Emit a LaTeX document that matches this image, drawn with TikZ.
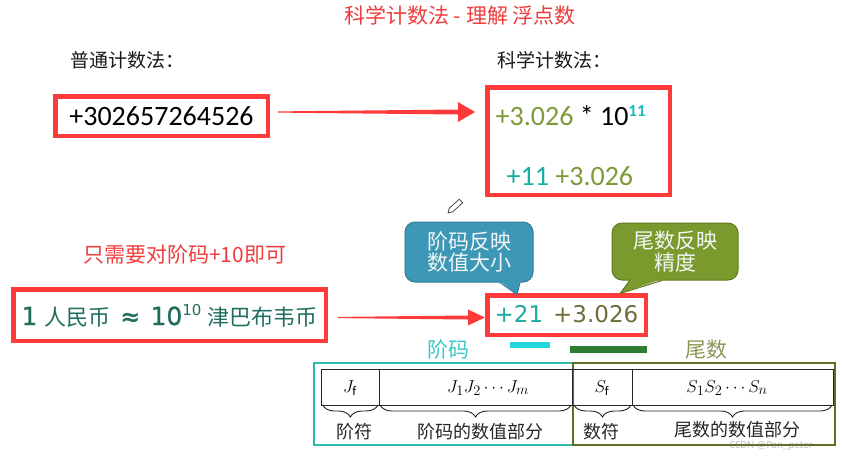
\documentclass[tikz,border=0pt]{standalone}
\usepackage{fontspec}
\setmainfont{Carlito}
\newfontfamily\cjk{Noto Sans CJK SC}
\newfontfamily\dv{DejaVu Sans}
\newfontfamily\dvsemi[FakeBold=0.8]{DejaVu Sans}
\usetikzlibrary{calc,decorations.pathreplacing}
\definecolor{titlered}{HTML}{F03C3C}
\definecolor{boxred}{HTML}{FF3A3A}
\definecolor{olivetxt}{HTML}{7E9A3A}
\definecolor{tealtxt}{HTML}{14B0A5}
\definecolor{supteal}{HTML}{1ABCBC}
\definecolor{rmbtxt}{HTML}{1F6E5E}
\definecolor{tealtxtb}{HTML}{1BA9A0}
\definecolor{olivedark}{HTML}{6F6D3C}
\definecolor{cblue}{HTML}{3D97B7}
\definecolor{cblueb}{HTML}{2D7E9C}
\definecolor{cgreen}{HTML}{7A9A2E}
\definecolor{cgreenb}{HTML}{5E7B1E}
\definecolor{calltext}{HTML}{F2F6F6}
\definecolor{labteal}{HTML}{3CC8C8}
\definecolor{labolive}{HTML}{8A9858}
\definecolor{cyanbar}{HTML}{22D6DA}
\definecolor{greenbar}{HTML}{2E7D32}
\definecolor{tealb}{HTML}{2DB8B0}
\definecolor{oliveb}{HTML}{5E6E22}
\newcommand{\taparrow}[5]{%
  \fill[boxred] ($(#1)+(0,-0.6)$) -- ($(#2)+(-#3,-#5)$) -- ($(#2)+(-#3,-#4)$) -- (#2)
    -- ($(#2)+(-#3,#4)$) -- ($(#2)+(-#3,#5)$) -- ($(#1)+(0,0.6)$) -- cycle;}
\begin{document}
\begin{tikzpicture}[x=1pt,y=-1pt,
  redbox/.style={draw=boxred, line width=4.5pt, inner sep=0pt, outer sep=0pt},
  callbox/.style={rounded corners=10pt, line width=1pt, inner sep=0pt, align=center,
     text=calltext, font=\cjk\fontsize{21}{21.5}\selectfont},
  cell/.style={draw=black!85, line width=0.9pt, inner sep=0pt, outer sep=0pt, minimum height=36pt},
  celltxt/.style={inner sep=0pt, font=\fontsize{19}{19}\selectfont},
  tlab/.style={inner sep=0pt, font=\cjk\fontsize{18}{18}\selectfont, text=black!85},
  bracedec/.style={decorate, decoration={brace, mirror, amplitude=12pt}, line width=0.9pt, black!85},
  heading/.style={anchor=west, inner sep=0pt, font=\cjk\fontsize{19}{19}\selectfont, text=black!90}]
\useasboundingbox (0,0) rectangle (842,456);
\fill[white] (0,0) rectangle (842,456);

% title and headings
\node[inner sep=0pt, text=titlered, font=\cjk\fontsize{21}{21}\selectfont] (title) at (460,15) {科学计数法 - 理解 浮点数};
\node[heading] (lab1) at (70,60) {普通计数法：};
\node[heading] (lab2) at (497,60) {科学计数法：};

% upper boxes
\node[redbox, minimum width=212.5pt, minimum height=39.5pt, text height=18pt, text depth=0pt,
      font=\fontsize{28}{28}\selectfont] (box1) at (161.5,116) {+302657264526};
\node[redbox, minimum width=182.5pt, minimum height=107.5pt] (box2) at (578.5,141) {};
\node[anchor=base west, inner sep=0pt, font=\fontsize{28}{28}\selectfont] (sci1) at (495.5,125)
  {\textcolor{olivetxt}{+3.026} * 10\raisebox{9pt}{\fontsize{17}{17}\selectfont\bfseries\textcolor{supteal}{11}}};
\node[anchor=base west, inner sep=0pt, font=\fontsize{28}{28}\selectfont] (sci2) at (506.5,185)
  {\textcolor{tealtxt}{+11} \textcolor{olivetxt}{+3.026}};

\coordinate (s1) at ($(box1.east)+(10.25,-4)$);
\coordinate (t1) at ($(s1 -| box2.west)+(-12.25,0)$);
\taparrow{s1}{t1}{17}{10}{2.5}

% lower left
\node[anchor=west, inner sep=0pt, text=titlered, font=\cjk\fontsize{21}{21}\selectfont] (hint) at (83,255) {只需要对阶码+10即可};
\node[redbox, minimum width=312.5pt, minimum height=51.5pt, text height=20pt, text depth=0pt, text=rmbtxt] (box3) at (169.5,315)
  {{\dvsemi\fontsize{25}{25}\selectfont 1}\hspace{7pt}{\cjk\fontsize{22}{22}\selectfont 人民币}\hspace{10pt}{\dv\bfseries\fontsize{24}{24}\selectfont ≈}\hspace{10pt}{\dvsemi\fontsize{25}{25}\selectfont 10}\raisebox{10pt}{\dv\fontsize{15}{15}\selectfont 10}\hspace{6pt}{\cjk\fontsize{22}{22}\selectfont 津巴布韦币}};

\node[redbox, minimum width=158.5pt, minimum height=39.5pt, text height=15pt, text depth=0pt,
      font=\dv\fontsize{23}{23}\selectfont] (box4) at (566.5,315)
  {\textcolor{tealtxtb}{+21}\hspace{10pt}\textcolor{olivedark}{+3.026}};

\coordinate (s2) at ($(box3.east)+(12,2.5)$);
\coordinate (t2) at ($(s2 -| box4.west)+(-2.25,0)$);
\taparrow{s2}{t2}{17}{8}{2}

% callouts
\node[callbox, fill=cblue, draw=cblueb, minimum width=128pt, minimum height=60pt] (c1) at (469,252) {阶码反映\\数值大小};
\fill[cblue] ($(c1.south)+(31,-1.5)$) -- ($(c1.south)+(48,12)$) -- ($(c1.south)+(51,-1.5)$) -- cycle;
\draw[cblueb, line width=1pt] ($(c1.south)+(31,0)$) -- ($(c1.south)+(48,12)$) -- ($(c1.south)+(51,0)$);

\node[callbox, fill=cgreen, draw=cgreenb, minimum width=126pt, minimum height=57pt] (c2) at (675,251.5) {尾数反映\\精度};
\fill[cgreen] ($(c2.south)+(-45,-1.5)$) -- ($(c2.south)+(-55,13)$) -- ($(c2.south)+(-13,-1.5)$) -- cycle;
\draw[cgreenb, line width=1pt] ($(c2.south)+(-45,0)$) -- ($(c2.south)+(-55,13)$) -- ($(c2.south)+(-13,0)$);

% pencil
\draw[gray!60!black, line width=0.8pt, line join=round] (448,213) -- (452.7,211.8) -- (462.7,202.8) -- (459.3,199.2) -- (449.3,208.2) -- cycle;

% bars and labels
\fill[cyanbar] (510,341.5) rectangle (550,348);
\fill[greenbar] (570,345.5) rectangle (647,352.5);
\node[inner sep=0pt, text=labteal, font=\cjk\fontsize{21}{21}\selectfont] (jm) at (448,349) {阶码};
\node[inner sep=0pt, text=labolive, font=\cjk\fontsize{21}{21}\selectfont] (ws) at (706,350) {尾数};

% table
\draw[tealb, line width=2.5pt] (314.2,363.2) rectangle (573,445);
\draw[oliveb, line width=2.5pt] (573,363.2) rectangle (835,445);
\node[cell, minimum width=57.3pt] (jf) at (350.35,387) {};
\node[cell, minimum width=193pt] (jv) at (475.5,387) {};
\node[cell, minimum width=60pt] (sf) at (602,387) {};
\node[cell, minimum width=201pt] (sv) at (732.5,387) {};
\node[celltxt] (jft) at (350,388) {$J_{\mathrm{f}}$};
\node[celltxt] (jvt) at (488,388) {$J_1J_2\cdots J_m$};
\node[celltxt] (sft) at (602,388) {$S_{\mathrm{f}}$};
\node[celltxt] (svt) at (727,388) {$S_1S_2\cdots S_n$};
\draw[bracedec] ($(jf.south west)+(1,0)$) -- ($(jf.south east)+(-1,0)$);
\draw[bracedec] ($(jv.south west)+(1,0)$) -- ($(jv.south east)+(-1,0)$);
\draw[bracedec] ($(sf.south west)+(2,0)$) -- ($(sf.south east)+(-1,0)$);
\draw[bracedec] ($(sv.south west)+(1,0)$) -- ($(sv.south east)+(-1,0)$);
\node[tlab] (l1) at (354,432) {阶符};
\node[tlab] (l2) at (480,432) {阶码的数值部分};
\node[tlab] (l3) at (601,432) {数符};
\node[tlab] (l4) at (737,430) {尾数的数值部分};
\node[inner sep=0pt, text=gray, opacity=0.5, font=\fontsize{11}{11}\selectfont] (wm) at (771,446) {CSDN @Pan\_peter};
\end{tikzpicture}
\end{document}
